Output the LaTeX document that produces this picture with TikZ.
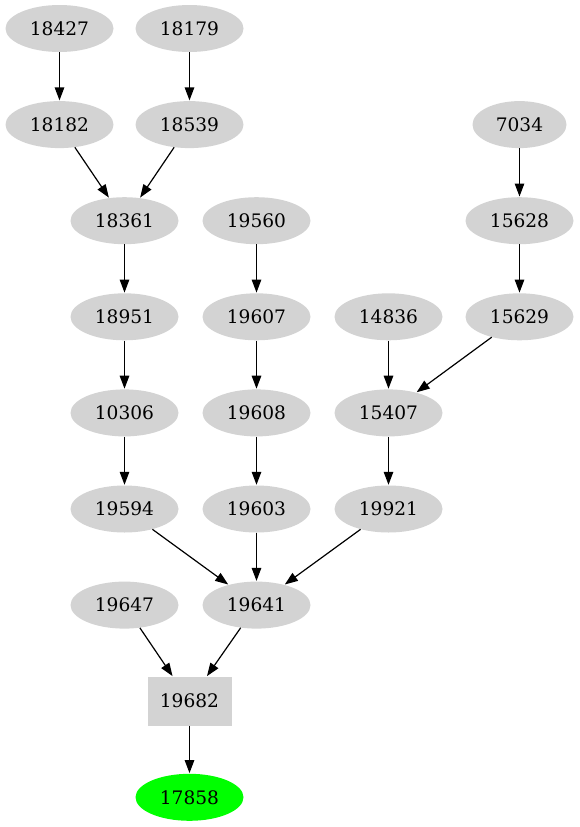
\documentclass[tikz,border=0pt]{standalone}
\usepackage{fontspec}
\setmainfont{DejaVu Serif}
\usetikzlibrary{shapes.geometric,arrows.meta}
\definecolor{lgray}{HTML}{D3D3D3}
\definecolor{vgreen}{HTML}{00FF00}
\begin{document}
\begin{tikzpicture}[x=1pt,y=-1pt,
  nd/.style={ellipse,fill=lgray,inner sep=0pt,minimum width=108pt,minimum height=47pt,font=\fontsize{18.6}{20}\selectfont},
  bx/.style={rectangle,fill=lgray,inner sep=0pt,minimum width=84pt,minimum height=49pt,font=\fontsize{18.6}{20}\selectfont},
  ed/.style={-{Triangle[length=13pt,width=9.5pt]},line width=1.2pt,shorten >=0.5pt}]
\useasboundingbox (0,0) rectangle (579,827);
\def\rA{28.5}\def\rB{124.6}\def\rC{220.7}\def\rD{316.8}\def\rE{412.9}\def\rF{509}\def\rG{605.1}\def\rH{701.2}\def\rI{797.3}
\node[nd] (n18427) at (59.5,\rA) {18427};
\node[nd] (n18179) at (189.5,\rA) {18179};
\node[nd] (n18182) at (59.5,\rB) {18182};
\node[nd] (n18539) at (189.5,\rB) {18539};
\node[nd,minimum width=94pt] (n7034) at (519.5,\rB) {7034};
\node[nd] (n18361) at (124.5,\rC) {18361};
\node[nd] (n19560) at (256.5,\rC) {19560};
\node[nd] (n15628) at (519.5,\rC) {15628};
\node[nd] (n18951) at (124.5,\rD) {18951};
\node[nd] (n19607) at (256.5,\rD) {19607};
\node[nd] (n14836) at (388.5,\rD) {14836};
\node[nd] (n15629) at (519.5,\rD) {15629};
\node[nd] (n10306) at (124.5,\rE) {10306};
\node[nd] (n19608) at (256.5,\rE) {19608};
\node[nd] (n15407) at (388.5,\rE) {15407};
\node[nd] (n19594) at (124.5,\rF) {19594};
\node[nd] (n19603) at (256.5,\rF) {19603};
\node[nd] (n19921) at (388.5,\rF) {19921};
\node[nd] (n19647) at (124.5,\rG) {19647};
\node[nd] (n19641) at (256.5,\rG) {19641};
\node[bx] (n19682) at (189.5,\rH) {19682};
\node[nd,fill=vgreen] (n17858) at (189.5,\rI) {17858};
\draw[ed] (n18427) -- (n18182);
\draw[ed] (n18179) -- (n18539);
\draw[ed] (n18182) -- (n18361);
\draw[ed] (n18539) -- (n18361);
\draw[ed] (n7034) -- (n15628);
\draw[ed] (n15628) -- (n15629);
\draw[ed] (n18361) -- (n18951);
\draw[ed] (n19560) -- (n19607);
\draw[ed] (n18951) -- (n10306);
\draw[ed] (n19607) -- (n19608);
\draw[ed] (n14836) -- (n15407);
\draw[ed] (n15629) -- (n15407);
\draw[ed] (n10306) -- (n19594);
\draw[ed] (n19608) -- (n19603);
\draw[ed] (n15407) -- (n19921);
\draw[ed] (n19594) -- (n19641);
\draw[ed] (n19603) -- (n19641);
\draw[ed] (n19921) -- (n19641);
\draw[ed] (n19647) -- (n19682);
\draw[ed] (n19641) -- (n19682);
\draw[ed] (n19682) -- (n17858);
\end{tikzpicture}
\end{document}
